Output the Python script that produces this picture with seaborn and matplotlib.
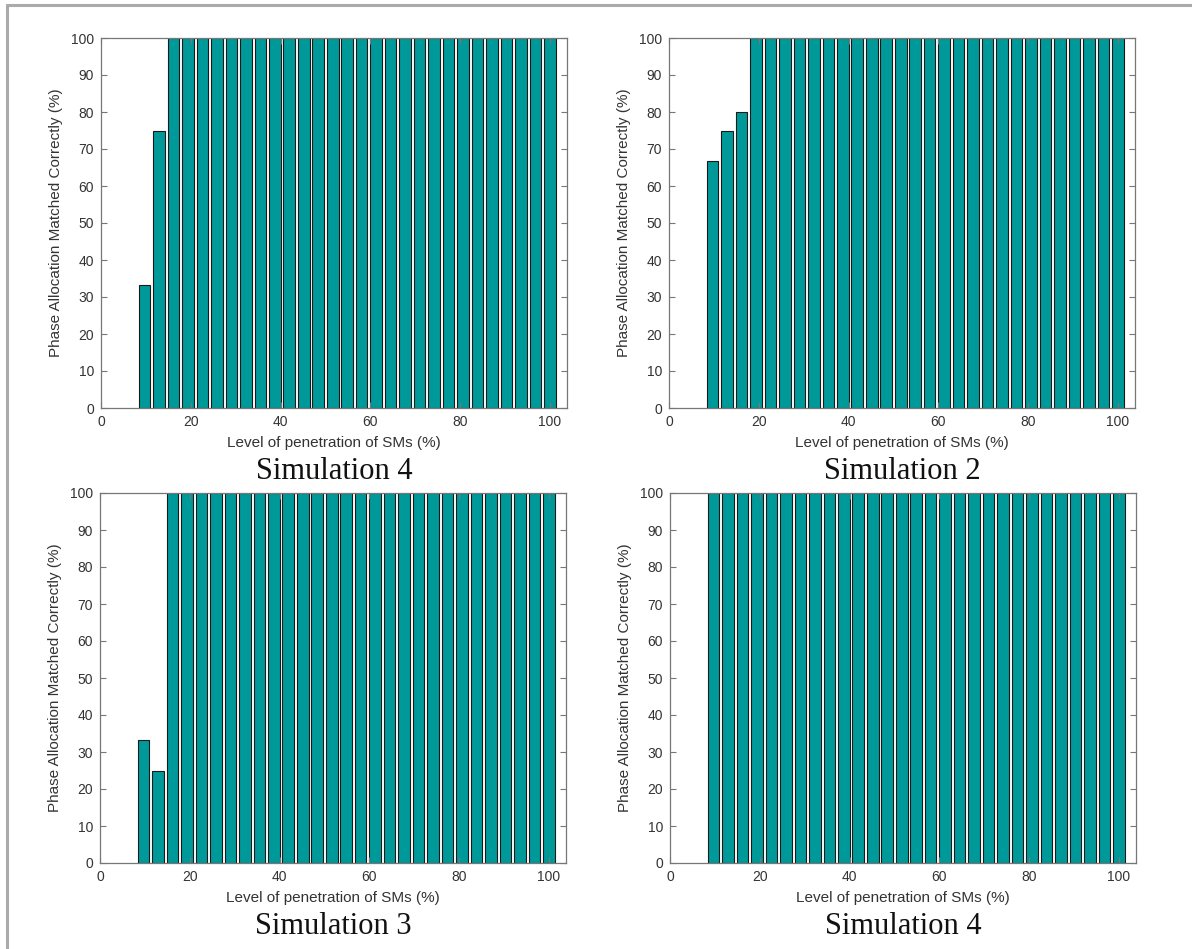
import matplotlib
matplotlib.use("Agg")
import matplotlib.pyplot as plt
from matplotlib.lines import Line2D
import seaborn as sns
import pandas as pd

# Penetration levels of smart meters (%), one bar per level
penetration = [9.677, 12.903, 16.129, 19.355, 22.581, 25.806, 29.032, 32.258,
               35.484, 38.710, 41.935, 45.161, 48.387, 51.613, 54.839, 58.065,
               61.290, 64.516, 67.742, 70.968, 74.194, 77.419, 80.645, 83.871,
               87.097, 90.323, 93.548, 96.774, 100.000]

# Percentage of phase allocations matched correctly, per simulation
sim_top_left = [33.3, 75.0, 100, 100, 100, 100, 100, 100, 100, 100, 100, 100,
                100, 100, 100, 100, 100, 100, 100, 100, 100, 100, 100, 100,
                100, 100, 100, 100, 100]
sim_top_right = [66.7, 75.0, 80.0, 100, 100, 100, 100, 100, 100, 100, 100, 100,
                 100, 100, 100, 100, 100, 100, 100, 100, 100, 100, 100, 100,
                 100, 100, 100, 100, 100]
sim_bottom_left = [33.3, 25.0, 100, 100, 100, 100, 100, 100, 100, 100, 100, 100,
                   100, 100, 100, 100, 100, 100, 100, 100, 100, 100, 100, 100,
                   100, 100, 100, 100, 100]
sim_bottom_right = [100, 100, 100, 100, 100, 100, 100, 100, 100, 100, 100, 100,
                    100, 100, 100, 100, 100, 100, 100, 100, 100, 100, 100, 100,
                    100, 100, 100, 100, 100]

panel_titles = ["Simulation 4", "Simulation 2", "Simulation 3", "Simulation 4"]
x_label = "Level of penetration of SMs (%)"
y_label = "Phase Allocation Matched Correctly (%)"
x_ticks = [0, 20, 40, 60, 80, 100]
y_ticks = [0, 10, 20, 30, 40, 50, 60, 70, 80, 90, 100]

sns.set_theme(style="white")
plt.rcParams["font.family"] = ["Liberation Sans", "DejaVu Sans"]

W, H = 1192, 949
fig = plt.figure(figsize=(W / 100, H / 100), dpi=100)
fig.patch.set_facecolor("white")

bar_color = "#009999"
text_color = "#333333"
spine_color = "#777777"

# axes boxes in pixels: (left, top, right, bottom)
boxes = [(101, 38, 567, 408), (669, 38, 1135, 408),
         (100, 493, 566, 863), (670, 493, 1136, 863)]
series = [sim_top_left, sim_top_right, sim_bottom_left, sim_bottom_right]
title_y = [471, 471, 926, 926]

for (l, t, r, b), vals, title, ty in zip(boxes, series, panel_titles, title_y):
    ax = fig.add_axes([l / W, (H - b) / H, (r - l) / W, (b - t) / H])
    df = pd.DataFrame({"level": penetration, "matched": vals})
    sns.barplot(data=df, x="level", y="matched", native_scale=True, width=0.8,
                color=bar_color, saturation=1, edgecolor="#1a1a1a",
                linewidth=0.8, ax=ax)
    ax.set_xlim(0, 103.8)
    ax.set_ylim(0, 100)
    ax.set_xticks(x_ticks)
    ax.set_yticks(y_ticks)
    ax.set_axisbelow(False)
    ax.tick_params(direction="in", length=4, width=0.8, top=True, right=True,
                   bottom=True, left=True, colors=spine_color,
                   labelcolor=text_color, labelsize=10, pad=5)
    for s in ax.spines.values():
        s.set_visible(True)
        s.set_color(spine_color)
        s.set_linewidth(0.9)
    ax.set_xlabel(x_label, fontsize=11, color=text_color, labelpad=5)
    ax.set_ylabel(y_label, fontsize=11, color=text_color, labelpad=6)
    fig.text((l + r) / 2 / W, (H - ty) / H, title, ha="center", va="center",
             fontsize=22, family="Liberation Serif", color="#111111")

# thin grey frame along the top and left edges
fig.add_artist(Line2D([7 / W, 1], [1 - 5 / H, 1 - 5 / H], color="#aaaaaa",
                      linewidth=2.2, transform=fig.transFigure))
fig.add_artist(Line2D([7 / W, 7 / W], [0, 1 - 5 / H], color="#aaaaaa",
                      linewidth=2.2, transform=fig.transFigure))

fig.savefig("out.png", dpi=100)
